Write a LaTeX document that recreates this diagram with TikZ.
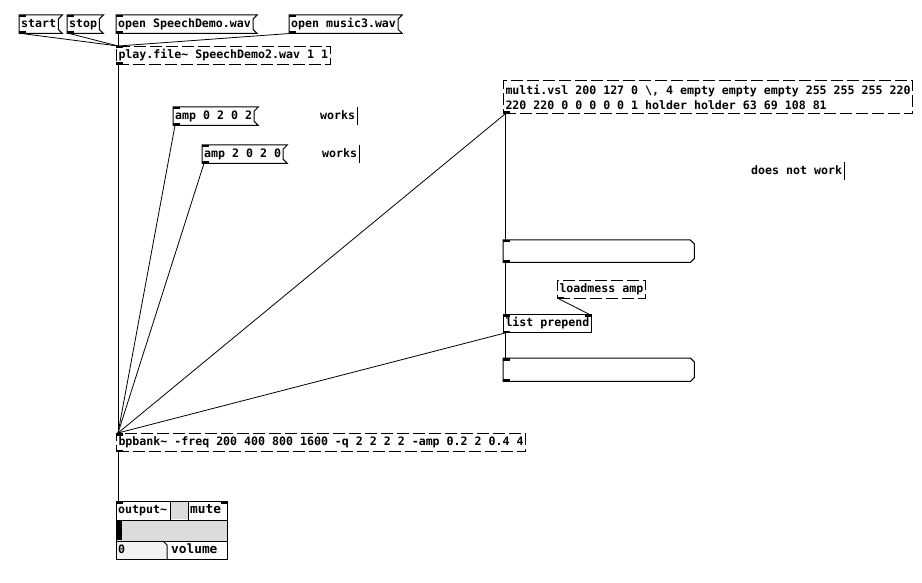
\documentclass[tikz,border=0pt]{standalone}
\usepackage{fontspec}
\newfontfamily\pdfont{DejaVu Sans Mono}
\definecolor{pdgray}{HTML}{DCDCDC}
\definecolor{pdnum}{HTML}{F2F2F2}
\tikzset{
  pdbase/.style={anchor=north west, inner xsep=2pt, inner ysep=0pt, minimum height=18pt,
    font={\pdfont\bfseries\fontsize{11.6pt}{15pt}\selectfont}},
  pdtext/.style={pdbase, text height=8.6pt, text depth=2.4pt},
  pdobj/.style={pdtext, draw, line width=1pt},
  pdbroken/.style={draw, line width=1pt, dash pattern=on 12pt off 4pt},
  pdwire/.style={line width=0.8pt},
  pdbig/.style={font={\pdfont\bfseries\fontsize{12.8pt}{15pt}\selectfont}}
}
% message box outline, with the flag on the right
\newcommand{\pdmsg}[1]{\draw[line width=1pt] (#1.north west) -- ([xshift=4pt]#1.north east) -- ([yshift=-4pt]#1.north east) -- ([yshift=4pt]#1.south east) -- ([xshift=4pt]#1.south east) -- (#1.south west) -- cycle;}
% list box outline, corners cut on the right
\newcommand{\pdlist}[1]{\draw[line width=1pt] (#1.north west) -- ([xshift=-4pt]#1.north east) -- ([yshift=-4pt]#1.north east) -- ([yshift=4pt]#1.south east) -- ([xshift=-4pt]#1.south east) -- (#1.south west) -- cycle;}
% inlets and outlets
\newcommand{\inl}[1]{\fill (#1.north west) rectangle ([xshift=7pt,yshift=-2.5pt]#1.north west);}
\newcommand{\inr}[1]{\fill (#1.north east) rectangle ([xshift=-7pt,yshift=-2.5pt]#1.north east);}
\newcommand{\outl}[1]{\fill (#1.south west) rectangle ([xshift=7pt,yshift=2.5pt]#1.south west);}
% comment edge bar
\newcommand{\cbar}[1]{\draw[line width=0.8pt] (#1.north east) -- (#1.south east);}
\begin{document}
\begin{tikzpicture}[x=1pt,y=-1pt]
\useasboundingbox[fill=white] (0,0) rectangle (922,583);

%% messages on top
\node[pdtext] (start) at (19,15) {start};
\node[pdtext] (stop) at (67,15) {stop};
\node[pdtext] (opensd) at (116,15) {open SpeechDemo.wav};
\node[pdtext] (openmus) at (289,15) {open music3.wav};
\pdmsg{start} \pdmsg{stop} \pdmsg{opensd} \pdmsg{openmus}

\node[pdtext, pdbroken] (play) at (116,46) {play.file\textasciitilde{} SpeechDemo2.wav 1 1};

%% amp messages and comments
\node[pdtext] (ampa) at (173,107) {amp 0 2 0 2};
\node[pdtext] (ampb) at (202,145) {amp 2 0 2 0};
\pdmsg{ampa} \pdmsg{ampb}
\node[pdtext] (worksa) at (318,107) {works};
\node[pdtext] (worksb) at (320,145) {works};
\node[pdtext] (nowork) at (749,162) {does not work};
\cbar{worksa} \cbar{worksb} \cbar{nowork}

%% right column
\node[pdbase, pdbroken, minimum height=33pt, align=left] (mvsl) at (503,80)
  {multi.vsl 200 127 0 \textbackslash, 4 empty empty empty 255 255 255 220\\220 220 0 0 0 0 0 1 holder holder 63 69 108 81};
\node[pdbase, minimum width=191pt, minimum height=22pt] (lista) at (503,240) {};
\node[pdtext, pdbroken] (loadm) at (557,280) {loadmess amp};
\node[pdobj] (prep) at (503,314) {list prepend};
\node[pdbase, minimum width=191pt, minimum height=23pt] (listb) at (503,358) {};
\pdlist{lista} \pdlist{listb}

%% filter bank
\node[pdtext, pdbroken] (bank) at (116,433) {bpbank\textasciitilde{} -freq 200 400 800 1600 -q 2 2 2 2 -amp 0.2 2 0.4 4};

%% output~ abstraction
\node[pdbase, draw, line width=1pt, minimum width=111pt, minimum height=58pt] (out) at (116,501) {};
\fill[pdgray] (170,501.5) rectangle (188,519);
\fill[pdgray] (116.5,520) rectangle (226.5,541);
\fill (117,521) rectangle (122,540);
\fill[pdnum] (116.5,541.5) rectangle (166,558.5);
\draw[line width=1pt] (170,501) -- (170,520) (188,501) -- (188,520);
\draw[line width=1pt] (116,520) -- (227,520) (116,541) -- (227,541);
\draw[line width=1pt] (163,541) -- (167,545) -- (167,559);
\node[pdtext] (outname) at (116,501) {output\textasciitilde};
\node[pdtext, pdbig] (mute) at (188,501) {mute};
\node[pdtext] (vol) at (116,541) {0};
\node[pdtext, pdbig] (volname) at (169,541) {volume};

%% inlets and outlets
\inl{start} \outl{start} \inl{stop} \outl{stop}
\inl{opensd} \outl{opensd} \inl{openmus} \outl{openmus}
\inl{play} \outl{play}
\inl{ampa} \outl{ampa} \inl{ampb} \outl{ampb}
\outl{mvsl}
\inl{lista} \outl{lista}
\outl{loadm}
\inl{prep} \inr{prep} \outl{prep}
\inl{listb} \outl{listb}
\inl{bank} \outl{bank}
\inl{out} \inr{out}

%% connections
\draw[pdwire] ([xshift=2pt]start.south west) -- ([xshift=2pt]play.north west);
\draw[pdwire] ([xshift=2pt]stop.south west) -- ([xshift=2pt]play.north west);
\draw[pdwire] ([xshift=2pt]opensd.south west) -- ([xshift=2pt]play.north west);
\draw[pdwire] ([xshift=2pt]openmus.south west) -- ([xshift=2pt]play.north west);
\draw[pdwire] ([xshift=2pt]play.south west) -- ([xshift=2pt]bank.north west);
\draw[pdwire] ([xshift=2pt]ampa.south west) -- ([xshift=2pt]bank.north west);
\draw[pdwire] ([xshift=2pt]ampb.south west) -- ([xshift=2pt]bank.north west);
\draw[pdwire] ([xshift=2pt]mvsl.south west) -- ([xshift=2pt]bank.north west);
\draw[pdwire] ([xshift=2pt]mvsl.south west) -- ([xshift=2pt]lista.north west);
\draw[pdwire] ([xshift=2pt]lista.south west) -- ([xshift=2pt]prep.north west);
\draw[pdwire] ([xshift=2pt]loadm.south west) -- ([xshift=-3pt]prep.north east);
\draw[pdwire] ([xshift=2pt]prep.south west) -- ([xshift=2pt]listb.north west);
\draw[pdwire] ([xshift=2pt]prep.south west) -- ([xshift=2pt]bank.north west);
\draw[pdwire] ([xshift=2pt]bank.south west) -- ([xshift=2pt]out.north west);
\end{tikzpicture}
\end{document}
